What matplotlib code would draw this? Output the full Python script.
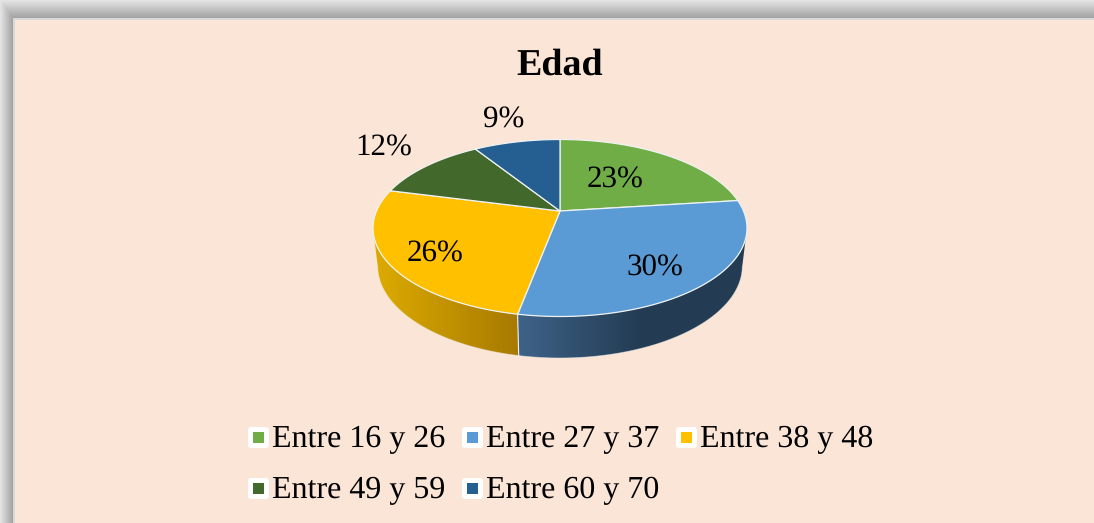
import numpy as np
import matplotlib
matplotlib.use("Agg")
import matplotlib.pyplot as plt
from matplotlib.patches import Rectangle, FancyBboxPatch, Polygon

plt.rcParams['font.family'] = ['Liberation Serif', 'DejaVu Serif']
plt.rcParams['text.hinting'] = 'none'
plt.rcParams['text.hinting_factor'] = 1

title = "Edad"
categories = ["Entre 16 y 26", "Entre 27 y 37", "Entre 38 y 48", "Entre 49 y 59", "Entre 60 y 70"]
values = [23, 30, 26, 12, 9]
colors = ["#70AD47", "#5B9BD5", "#FFC000", "#43682B", "#255E91"]
label_xy = [(615, 180), (655, 268), (435, 254), (384, 148), (504, 120)]
legend_xy = [(248, 437), (462, 437), (676, 437), (248, 488), (462, 488)]
wall_left = {1: "#3F6389", 2: "#DBAA00"}
wall_right = {1: "#233C53", 2: "#A87A00"}
wall_span = {1: (517, 640), 2: (378, 517)}

W, H = 1094, 523
fig = plt.figure(figsize=(W / 100, H / 100), dpi=100)
ax = fig.add_axes([0, 0, 1, 1])
ax.axis("off")

# soft shadow around the panel
px, py = np.meshgrid(np.arange(W) + .5, np.arange(H) + .5)
d = np.minimum(np.clip(px / 13, 0, 1), np.clip(py / 18, 0, 1))
shade = 0.90 - 0.27 * d
ax.imshow(shade, cmap="gray", vmin=0, vmax=1, extent=(0, W, H, 0), aspect="auto", zorder=0)
ax.add_patch(Rectangle((13, 18), W, H, fc="#D9D9D9", ec="none", zorder=1))
ax.add_patch(Rectangle((15, 20), W, H, fc="#FBE5D6", ec="none", zorder=1))

# perspective disc
CX, CY, K, A, B, C = 560, 228, 0.192, 88.5, 17, 183.5

def top(t):
    u, v = np.sin(t), np.cos(t)
    den = 1 + K * v
    return C * u / den, (A * v + B) / den

def project_top(t):
    x, y = top(t)
    return CX + x, CY - y

def project_bottom(t):
    x, y = top(t)
    return CX + 0.975 * x, 266 - 92 / 88.5 * y

edge = "#EEF2F2"
cum = np.concatenate([[0], np.cumsum(values)]) / np.sum(values) * 2 * np.pi
tmin, tmax = np.arccos(-K), 2 * np.pi - np.arccos(-K)

def mix(c1, c2, f):
    a = np.array(matplotlib.colors.to_rgb(c1))
    b = np.array(matplotlib.colors.to_rgb(c2))
    return a + (b - a) * np.clip(f, 0, 1)[..., None]

# side wall: horizontal gradient clipped to each slice's wall
for i, col in enumerate(colors):
    lo, hi = max(cum[i], tmin), min(cum[i + 1], tmax)
    if lo >= hi:
        continue
    ts = np.linspace(lo, hi, 200)
    xt, yt = project_top(ts)
    xb, yb = project_bottom(ts)
    outline = np.column_stack([np.r_[xt, xb[::-1]], np.r_[yt, yb[::-1]]])
    clip = Polygon(outline, closed=True, fc="none", ec="none", transform=ax.transData)
    ax.add_patch(clip)
    x0, x1 = wall_span[i]
    columns = np.arange(360, 760) + .5
    img = mix(wall_left[i], wall_right[i], (columns - x0) / (x1 - x0))[None, :, :]
    im = ax.imshow(img, extent=(360, 760, 370, 200), aspect="auto", zorder=2, interpolation="bilinear")
    im.set_clip_path(clip)
    ax.plot(xb, yb, color=edge, lw=0.6, alpha=.5, zorder=3)

t_split = cum[2]
ax.plot(*zip(project_top(t_split), project_bottom(t_split)), color=edge, lw=0.8, zorder=3)

# top faces
for i, col in enumerate(colors):
    ts = np.linspace(cum[i], cum[i + 1], 200)
    xs, ys = project_top(ts)
    ax.fill(np.r_[CX, xs], np.r_[CY - B, ys], fc=col, ec=edge, lw=0.9, zorder=4, joinstyle="round")

# labels
for v, (x, y) in zip(values, label_xy):
    ax.text(x, y, f"{v}%", fontsize=22, color="black", ha="center", va="center", zorder=6)

ax.text(560, 65, title, fontsize=27.5, fontweight="bold", color="black", ha="center", va="center", zorder=6)

# legend
for name, col, (x, y) in zip(categories, colors, legend_xy):
    ax.add_patch(FancyBboxPatch((x + 2, y - 8), 17, 17, boxstyle="round,pad=2,rounding_size=3",
                                fc="white", ec="none", zorder=5))
    ax.add_patch(Rectangle((x + 4.5, y - 5.5), 11.5, 11.5, fc=col, ec="none", zorder=6))
    ax.text(x + 24, y + 2.5, name, fontsize=23, color="black", ha="left", va="center", zorder=6)

ax.set_xlim(0, W)
ax.set_ylim(H, 0)
fig.savefig("out.png", dpi=100)
